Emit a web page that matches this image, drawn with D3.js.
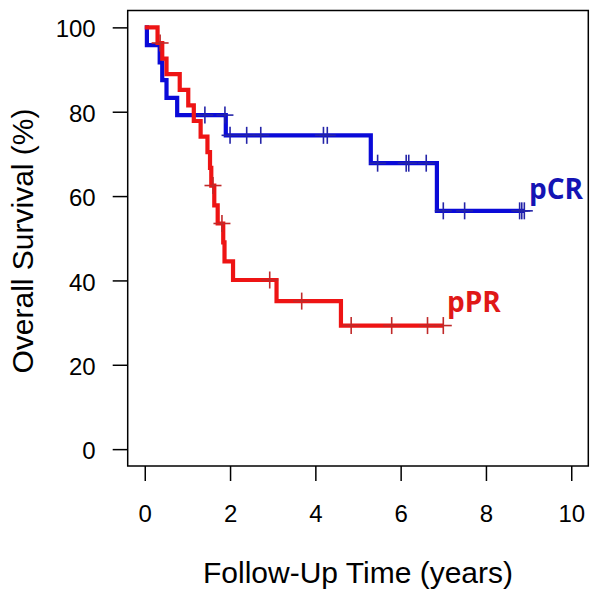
<!DOCTYPE html>
<html>
<head>
<meta charset="utf-8">
<script src="https://cdn.jsdelivr.net/npm/d3@7"></script>
<style>
html,body{margin:0;padding:0;background:#fff;}
svg{display:block;}
</style>
</head>
<body>
<svg id="chart" width="600" height="601"></svg>
<script>
// ---- data ----
const xTicks = [0, 2, 4, 6, 8, 10];
const yTicks = [0, 20, 40, 60, 80, 100];

// pCR (blue): event times (years) and survival (%) after each drop
const pcrTimes = [0.05, 0.35, 0.41, 0.51, 0.76, 1.90, 5.30, 6.85];
const pcrSurv  = [95.8, 91.7, 87.5, 83.3, 79.2, 74.4, 67.8, 56.5];
const pcrCensor = [1.41, 1.88, 2.00, 2.39, 2.72, 4.19, 4.28, 5.46, 6.13, 6.19, 6.60, 7.00, 7.50, 8.79, 8.84, 8.90];

// pPR (red)
const pprTimes = [0.30, 0.41, 0.51, 0.82, 1.02, 1.15, 1.31, 1.47, 1.53, 1.56, 1.63, 1.71, 1.84, 1.87, 2.07, 3.09, 4.60];
const pprSurv  = [96.3, 92.6, 88.9, 85.2, 81.5, 77.8, 74.1, 70.4, 66.7, 62.5, 57.8, 53.5, 49.0, 44.5, 40.1, 35.1, 29.3];
const pprCensor = [0.36, 1.60, 1.81, 2.93, 3.68, 4.84, 5.79, 6.63, 7.00];

const seriesNames = ["pCR", "pPR"];

// ---- layout ----
const svg = d3.select("#chart");
const x = d3.scaleLinear().domain([-0.4, 10.4]).range([127.7, 588.3]);
const y = d3.scaleLinear().domain([-4, 104]).range([466, 10.5]);

const axisFont = "Liberation Sans, Arial, Helvetica, sans-serif";

// box
svg.append("rect")
  .attr("x", x(-0.4)).attr("y", y(104))
  .attr("width", x(10.4) - x(-0.4)).attr("height", y(-4) - y(104))
  .attr("fill", "none").attr("stroke", "#000").attr("stroke-width", 1.5);

// x axis
const xAxis = d3.axisBottom(x).tickValues(xTicks).tickSize(15).tickPadding(24).tickFormat(d3.format("d"));
const gx = svg.append("g").attr("transform", `translate(0,${y(-4)})`).call(xAxis);
gx.select(".domain").remove();
gx.selectAll(".tick line").attr("stroke", "#000").attr("stroke-width", 1.5);
gx.selectAll(".tick text").attr("font-family", axisFont).attr("font-size", 24).attr("fill", "#000");

// y axis
const yAxis = d3.axisLeft(y).tickValues(yTicks).tickSize(15).tickPadding(17).tickFormat(d3.format("d"));
const gy = svg.append("g").attr("transform", `translate(${x(-0.4)},0)`).call(yAxis);
gy.select(".domain").remove();
gy.selectAll(".tick line").attr("stroke", "#000").attr("stroke-width", 1.5);
gy.selectAll(".tick text").attr("font-family", axisFont).attr("font-size", 24).attr("fill", "#000").attr("dy", "0.4em");

// axis titles
svg.append("text")
  .attr("x", 358).attr("y", 583)
  .attr("text-anchor", "middle")
  .attr("font-family", axisFont).attr("font-size", 30).attr("fill", "#000")
  .text("Follow-Up Time (years)");
svg.append("text")
  .attr("transform", "translate(33,241) rotate(-90)")
  .attr("text-anchor", "middle")
  .attr("font-family", axisFont).attr("font-size", 30).attr("fill", "#000")
  .text("Overall Survival (%)");

// ---- KM curves ----
function stepValue(times, surv, t) {
  let v = 100;
  for (let i = 0; i < times.length; i++) if (times[i] <= t) v = surv[i];
  return v;
}
function kmPoints(times, surv, censor) {
  const pts = [[0, 100]];
  times.forEach((t, i) => pts.push([t, surv[i]]));
  const tEnd = Math.max(d3.max(times), d3.max(censor));
  pts.push([tEnd, stepValue(times, surv, tEnd)]);
  return pts;
}
const line = d3.line().x(d => x(d[0])).y(d => y(d[1])).curve(d3.curveStepAfter);

const series = [
  {name: seriesNames[0], times: pcrTimes, surv: pcrSurv, censor: pcrCensor, color: "#0a0ad8", mark: "#2424a8"},
  {name: seriesNames[1], times: pprTimes, surv: pprSurv, censor: pprCensor, color: "#ee1414", mark: "#c02a2a"}
];

series.forEach(s => {
  svg.append("path")
    .attr("d", line(kmPoints(s.times, s.surv, s.censor)))
    .attr("fill", "none").attr("stroke", s.color).attr("stroke-width", 4.2)
    .attr("stroke-linejoin", "miter").attr("stroke-linecap", "butt");
  const g = svg.append("g");
  s.censor.forEach(t => {
    const cx = x(t), cy = y(stepValue(s.times, s.surv, t));
    g.append("line").attr("x1", cx).attr("x2", cx).attr("y1", cy - 8.5).attr("y2", cy + 8.5)
      .attr("stroke", s.mark).attr("stroke-width", 1.6);
    g.append("line").attr("x1", cx - 8.5).attr("x2", cx + 8.5).attr("y1", cy).attr("y2", cy)
      .attr("stroke", s.mark).attr("stroke-width", 1.6);
  });
});

// series labels
const labelFont = "'Open Sans', Lato, sans-serif";
svg.append("text").attr("x", 529).attr("y", 198.5)
  .attr("font-family", labelFont).attr("font-weight", "bold").attr("font-size", 28)
  .attr("fill", "#1414b4").text(seriesNames[0]);
svg.append("text").attr("x", 447).attr("y", 312)
  .attr("font-family", labelFont).attr("font-weight", "bold").attr("font-size", 28)
  .attr("fill", "#e01818").text(seriesNames[1]);
</script>
</body>
</html>
